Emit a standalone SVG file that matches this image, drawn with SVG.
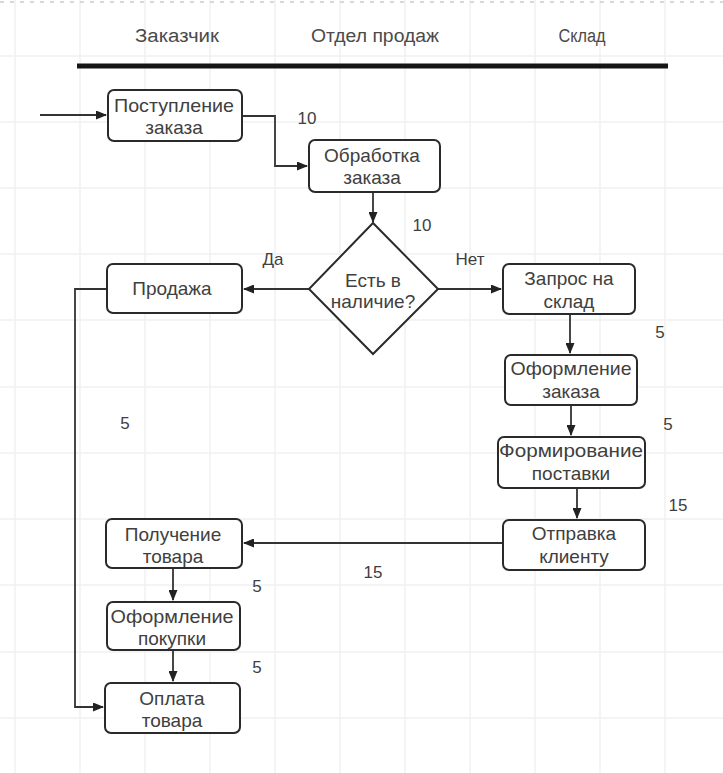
<svg xmlns="http://www.w3.org/2000/svg" width="723" height="773" viewBox="0 0 723 773">
  <style>
    .grid { stroke: #f0f0f0; stroke-width: 1.5; }
    .node { fill: #ffffff; stroke: #2a2a2a; stroke-width: 2; }
    .edge { fill: none; stroke: #333333; stroke-width: 1.8; }
    .lbl { font-family: "Liberation Sans", Arial, sans-serif; font-size: 19px; fill: #404040; text-anchor: middle; }
    .num { font-family: "Liberation Sans", Arial, sans-serif; font-size: 17px; fill: #404040; text-anchor: middle; }
    .lane { font-family: "Liberation Sans", Arial, sans-serif; font-size: 18px; fill: #4a4a4a; text-anchor: middle; }
  </style>
  <defs>
    <marker id="arrow" markerUnits="userSpaceOnUse" markerWidth="11" markerHeight="9" refX="10" refY="4.5" orient="auto">
      <path d="M0,0 L11,4.5 L0,9 z" fill="#222222"/>
    </marker>
  </defs>

  <rect width="723" height="773" fill="#ffffff"/>

  <!-- background grid -->
  <g id="grid" class="grid">
    <line x1="15" y1="0" x2="15" y2="773"/>
    <line x1="80" y1="0" x2="80" y2="773"/>
    <line x1="145" y1="0" x2="145" y2="773"/>
    <line x1="210" y1="0" x2="210" y2="773"/>
    <line x1="275" y1="0" x2="275" y2="773"/>
    <line x1="340" y1="0" x2="340" y2="773"/>
    <line x1="405" y1="0" x2="405" y2="773"/>
    <line x1="470" y1="0" x2="470" y2="773"/>
    <line x1="535" y1="0" x2="535" y2="773"/>
    <line x1="600" y1="0" x2="600" y2="773"/>
    <line x1="665" y1="0" x2="665" y2="773"/>
    <line x1="0" y1="56" x2="723" y2="56"/>
    <line x1="0" y1="122" x2="723" y2="122"/>
    <line x1="0" y1="188" x2="723" y2="188"/>
    <line x1="0" y1="254" x2="723" y2="254"/>
    <line x1="0" y1="320" x2="723" y2="320"/>
    <line x1="0" y1="387" x2="723" y2="387"/>
    <line x1="0" y1="453" x2="723" y2="453"/>
    <line x1="0" y1="519" x2="723" y2="519"/>
    <line x1="0" y1="585" x2="723" y2="585"/>
    <line x1="0" y1="652" x2="723" y2="652"/>
    <line x1="0" y1="718" x2="723" y2="718"/>
  </g>
  <line x1="0" y1="2" x2="723" y2="2" stroke="#d8d8d8" stroke-width="2" stroke-dasharray="4 6"/>

  <!-- swimlane header -->
  <g id="lanes">
    <text class="lane" x="177" y="42" textLength="84" lengthAdjust="spacingAndGlyphs">Заказчик</text>
    <text class="lane" x="375" y="42" textLength="128" lengthAdjust="spacingAndGlyphs">Отдел продаж</text>
    <text class="lane" x="582" y="42" font-size="19" textLength="47" lengthAdjust="spacingAndGlyphs">Склад</text>
    <rect x="77" y="63.5" width="591" height="5" fill="#151515"/>
  </g>

  <!-- connectors -->
  <g id="connectors" class="edge">
    <path d="M40,115 H106" marker-end="url(#arrow)"/>
    <path d="M242,116 H275 V166 H307" marker-end="url(#arrow)"/>
    <path d="M373,192 V222" marker-end="url(#arrow)"/>
    <path d="M309,289 H244" marker-end="url(#arrow)"/>
    <path d="M438,289 H501" marker-end="url(#arrow)"/>
    <path d="M570,314 V353" marker-end="url(#arrow)"/>
    <path d="M571,405 V435" marker-end="url(#arrow)"/>
    <path d="M577,488 V518" marker-end="url(#arrow)"/>
    <path d="M503,543 H244" marker-end="url(#arrow)"/>
    <path d="M173,568 V600" marker-end="url(#arrow)"/>
    <path d="M173,650 V681" marker-end="url(#arrow)"/>
    <path d="M107,289 H75 V707 H103" marker-end="url(#arrow)"/>
  </g>

  <!-- step durations and branch labels -->
  <g id="labels">
    <text class="num" x="307" y="124">10</text>
    <text class="num" x="422" y="231">10</text>
    <text class="num" x="273" y="265">Да</text>
    <text class="num" x="470" y="265">Нет</text>
    <text class="num" x="660" y="338">5</text>
    <text class="num" x="125" y="429">5</text>
    <text class="num" x="668" y="430">5</text>
    <text class="num" x="678" y="511">15</text>
    <text class="num" x="373" y="578">15</text>
    <text class="num" x="257" y="592">5</text>
    <text class="num" x="257" y="673">5</text>
  </g>

  <g id="n-postuplenie">
    <rect class="node" x="108" y="90" width="134" height="51" rx="6"/>
    <text class="lbl" x="174" y="112" textLength="120" lengthAdjust="spacingAndGlyphs">Поступление</text>
    <text class="lbl" x="174" y="134">заказа</text>
  </g>

  <g id="n-obrabotka">
    <rect class="node" x="309" y="140" width="131" height="52" rx="6"/>
    <text class="lbl" x="372" y="162">Обработка</text>
    <text class="lbl" x="372" y="184">заказа</text>
  </g>

  <g id="n-nalichie">
    <polygon class="node" points="373,223 438,289 373,354 309,289"/>
    <text class="lbl" x="373" y="287" font-size="18">Есть в</text>
    <text class="lbl" x="373" y="308" font-size="18">наличие?</text>
  </g>

  <g id="n-prodazha">
    <rect class="node" x="107" y="264" width="135" height="49" rx="6"/>
    <text class="lbl" x="172" y="295">Продажа</text>
  </g>

  <g id="n-zapros">
    <rect class="node" x="503" y="264" width="132" height="50" rx="6"/>
    <text class="lbl" x="569" y="285">Запрос на</text>
    <text class="lbl" x="569" y="308">склад</text>
  </g>

  <g id="n-oform-zakaza">
    <rect class="node" x="505" y="355" width="132" height="50" rx="6"/>
    <text class="lbl" x="571" y="375" textLength="121" lengthAdjust="spacingAndGlyphs">Оформление</text>
    <text class="lbl" x="571" y="398">заказа</text>
  </g>

  <g id="n-formirovanie">
    <rect class="node" x="498" y="437" width="147" height="51" rx="6"/>
    <text class="lbl" x="571" y="457" textLength="144" lengthAdjust="spacingAndGlyphs">Формирование</text>
    <text class="lbl" x="571" y="480">поставки</text>
  </g>

  <g id="n-otpravka">
    <rect class="node" x="503" y="520" width="142" height="50" rx="6"/>
    <text class="lbl" x="574" y="540">Отправка</text>
    <text class="lbl" x="574" y="563">клиенту</text>
  </g>

  <g id="n-poluchenie">
    <rect class="node" x="106" y="519" width="136" height="49" rx="6"/>
    <text class="lbl" x="173" y="541">Получение</text>
    <text class="lbl" x="173" y="563">товара</text>
  </g>

  <g id="n-oform-pokupki">
    <rect class="node" x="107" y="602" width="133" height="48" rx="6"/>
    <text class="lbl" x="172" y="623" textLength="123" lengthAdjust="spacingAndGlyphs">Оформление</text>
    <text class="lbl" x="172" y="645">покупки</text>
  </g>

  <g id="n-oplata">
    <rect class="node" x="105" y="683" width="135" height="50" rx="6"/>
    <text class="lbl" x="172" y="705">Оплата</text>
    <text class="lbl" x="172" y="727">товара</text>
  </g>
</svg>
